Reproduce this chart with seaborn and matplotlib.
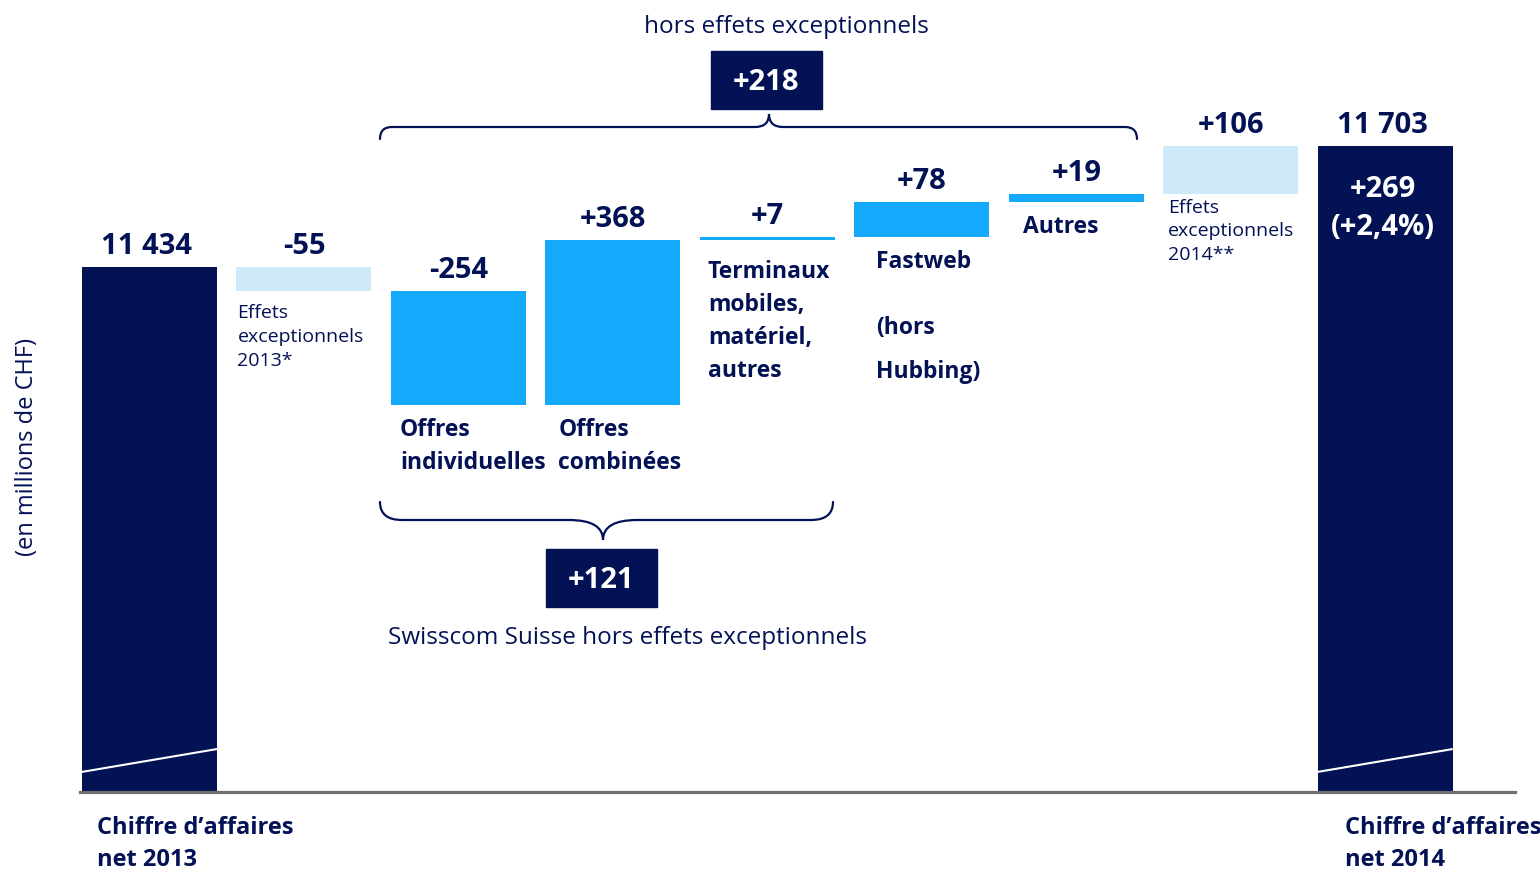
import numpy as np
import pandas as pd
import matplotlib
matplotlib.use("Agg")
import matplotlib.pyplot as plt
import matplotlib.transforms as mtransforms
from matplotlib.path import Path
from matplotlib.patches import PathPatch, Rectangle
import seaborn as sns

# Données (en millions de CHF)
categories = ["Chiffre d’affaires net 2013", "Effets exceptionnels 2013*",
              "Offres individuelles", "Offres combinées",
              "Terminaux mobiles, matériel, autres", "Fastweb (hors Hubbing)",
              "Autres", "Effets exceptionnels 2014**", "Chiffre d’affaires net 2014"]
ca_2013 = 11434
variations = [-55, -254, 368, 7, 78, 19, 106]
ca_2014 = 11703
types_barre = ["total", "effet", "var", "var", "var", "var", "var", "effet", "total"]

# Textes sous les barres
textes_sous = [None, "Effets\nexceptionnels\n2013*", "Offres\nindividuelles",
               "Offres\ncombinées", "Terminaux\nmobiles,\nmatériel,\nautres",
               "Fastweb", "Autres", "Effets\nexceptionnels\n2014**", None]

NAVY = "#031155"
BLEU = "#14a9fa"
CLAIR = "#cde9fa"
GRIS = "#6e6e6e"
W = 1540
H = 870
LARGEUR = 0.874


def fmt_total(v):
    return f"{v:,}".replace(",", " ")


def accolade(ax, x0, x1, xm, y_ligne, y_bout, y_pointe, r_bout, r_pointe):
    verts = [(x0, y_bout), (x0, y_ligne), (x0 + r_bout, y_ligne),
             (xm - r_pointe, y_ligne), (xm, y_ligne), (xm, y_pointe),
             (xm, y_ligne), (xm + r_pointe, y_ligne),
             (x1 - r_bout, y_ligne), (x1, y_ligne), (x1, y_bout)]
    codes = [Path.MOVETO, Path.CURVE3, Path.CURVE3, Path.LINETO,
             Path.CURVE3, Path.CURVE3, Path.CURVE3, Path.CURVE3,
             Path.LINETO, Path.CURVE3, Path.CURVE3]
    ax.add_patch(PathPatch(Path(verts, codes), fill=False, edgecolor=NAVY,
                           linewidth=1.6, capstyle="round"))


# Calcul du waterfall
cumul = ca_2013 + np.cumsum(variations)
debut = np.concatenate([[ca_2013], cumul[:-1]])
hauts = [ca_2013] + list(np.maximum(debut, cumul)) + [ca_2014]
bases = [0] + list(np.minimum(debut, cumul)) + [0]
valeurs_txt = [fmt_total(ca_2013)] + [f"{v:+d}" for v in variations] + [fmt_total(ca_2014)]

df = pd.DataFrame({"categorie": categories, "haut": hauts, "base": bases, "type": types_barre})

sns.set_theme(style="white")
plt.rcParams["font.family"] = ["Open Sans", "DejaVu Sans"]

fig = plt.figure(figsize=(W / 100, H / 100), dpi=100)
ax = fig.add_axes([80 / W, 77 / H, 1435 / W, 693 / H])

palette = {"total": NAVY, "effet": CLAIR, "var": BLEU}
sns.barplot(data=df, x="categorie", y="haut", hue="type", palette=palette,
            dodge=False, width=LARGEUR, saturation=1, linewidth=0,
            errorbar=None, legend=False, ax=ax)
# on "évide" le bas des barres flottantes
sns.barplot(data=df, x="categorie", y="base", color="white", width=LARGEUR,
            saturation=1, linewidth=0, errorbar=None, ax=ax)

ax.set_ylim(10263, 11808)
ax.set_xlim(-0.45, 8.84)
ax.set_xticks([])
ax.set_yticks([])
ax.set_xlabel("")
ax.set_ylabel("")
sns.despine(ax=ax, left=True)
ax.spines["bottom"].set_color(GRIS)
ax.spines["bottom"].set_linewidth(2.3)

# Rupture d'axe sur les barres de total
trans = mtransforms.blended_transform_factory(ax.transData, ax.transAxes)
for i, t in enumerate(types_barre):
    if t == "total":
        ax.plot([i - LARGEUR / 2, i + LARGEUR / 2], [0.029, 0.062], transform=trans,
                color="white", lw=1.5, solid_capstyle="butt")

# Valeurs au-dessus des barres
for i, (h, txt) in enumerate(zip(hauts, valeurs_txt)):
    ax.annotate(txt, (i, h), xytext=(-3 if types_barre[i] == "total" else 0, 14),
                textcoords="offset pixels", ha="center", va="baseline",
                fontsize=21, fontweight="bold", color=NAVY)

delta = ca_2014 - ca_2013
txt_delta = f"{delta:+d}\n(+{delta / ca_2013 * 100:.1f}%)".replace(".", ",")
ax.annotate(txt_delta, (8, ca_2014), xytext=(-2, -28), textcoords="offset pixels",
            ha="center", va="top", fontsize=21, fontweight="bold", color="white",
            linespacing=1.42)

# Libellés sous les barres
decal_x = [0, 1, 9, 13, 8, 22, 14, 5, 0]
decal_y = [0, 12, 12, 12, 19, 12, 12, 4, 0]
for i, txt in enumerate(textes_sous):
    if txt is None:
        continue
    regulier = types_barre[i] == "effet"
    ax.annotate(txt, (i - LARGEUR / 2, bases[i]), xytext=(decal_x[i], -decal_y[i]),
                textcoords="offset pixels", ha="left", va="top",
                fontsize=14 if regulier else 16.5,
                fontweight="normal" if regulier else "bold", color=NAVY,
                linespacing=1.41 if regulier else 1.5)
ax.annotate("(hors\nHubbing)", (5 - LARGEUR / 2, bases[5]), xytext=(22, -78),
            textcoords="offset pixels", ha="left", va="top", fontsize=16.5,
            fontweight="bold", color=NAVY, linespacing=2.12)

# Calque d'annotations en pixels
ov = fig.add_axes([0, 0, 1, 1])
ov.set_xlim(0, W)
ov.set_ylim(H, 0)
ov.axis("off")

total_hors = sum(variations[1:6])
suisse_hors = sum(variations[1:4])

ov.text(786, 27, "hors effets exceptionnels", ha="center", va="center",
        fontsize=17.5, color=NAVY)
ov.add_patch(Rectangle((711, 52), 111, 58, color=NAVY))
ov.text(766.5, 82, f"{total_hors:+d}", ha="center", va="center", fontsize=21,
        fontweight="bold", color="white")
accolade(ov, 380, 1137, 769, 128, 140, 115, 12, 14)

accolade(ov, 380, 833, 603, 521, 503, 541, 22, 34)
ov.add_patch(Rectangle((546, 550), 111, 58, color=NAVY))
ov.text(601.5, 581, f"{suisse_hors:+d}", ha="center", va="center", fontsize=21,
        fontweight="bold", color="white")
ov.text(628, 638, "Swisscom Suisse hors effets exceptionnels", ha="center", va="center",
        fontsize=17.5, color=NAVY)

ov.text(27, 447, "(en millions de CHF)", rotation=90, ha="center", va="center",
        fontsize=17, color=NAVY)

ov.text(97, 844, "Chiffre d’affaires\nnet 2013", ha="left", va="center",
        fontsize=17, fontweight="bold", color=NAVY, linespacing=1.47)
ov.text(1345, 844, "Chiffre d’affaires\nnet 2014", ha="left", va="center",
        fontsize=17, fontweight="bold", color=NAVY, linespacing=1.47)

fig.savefig("out.png", dpi=100)
